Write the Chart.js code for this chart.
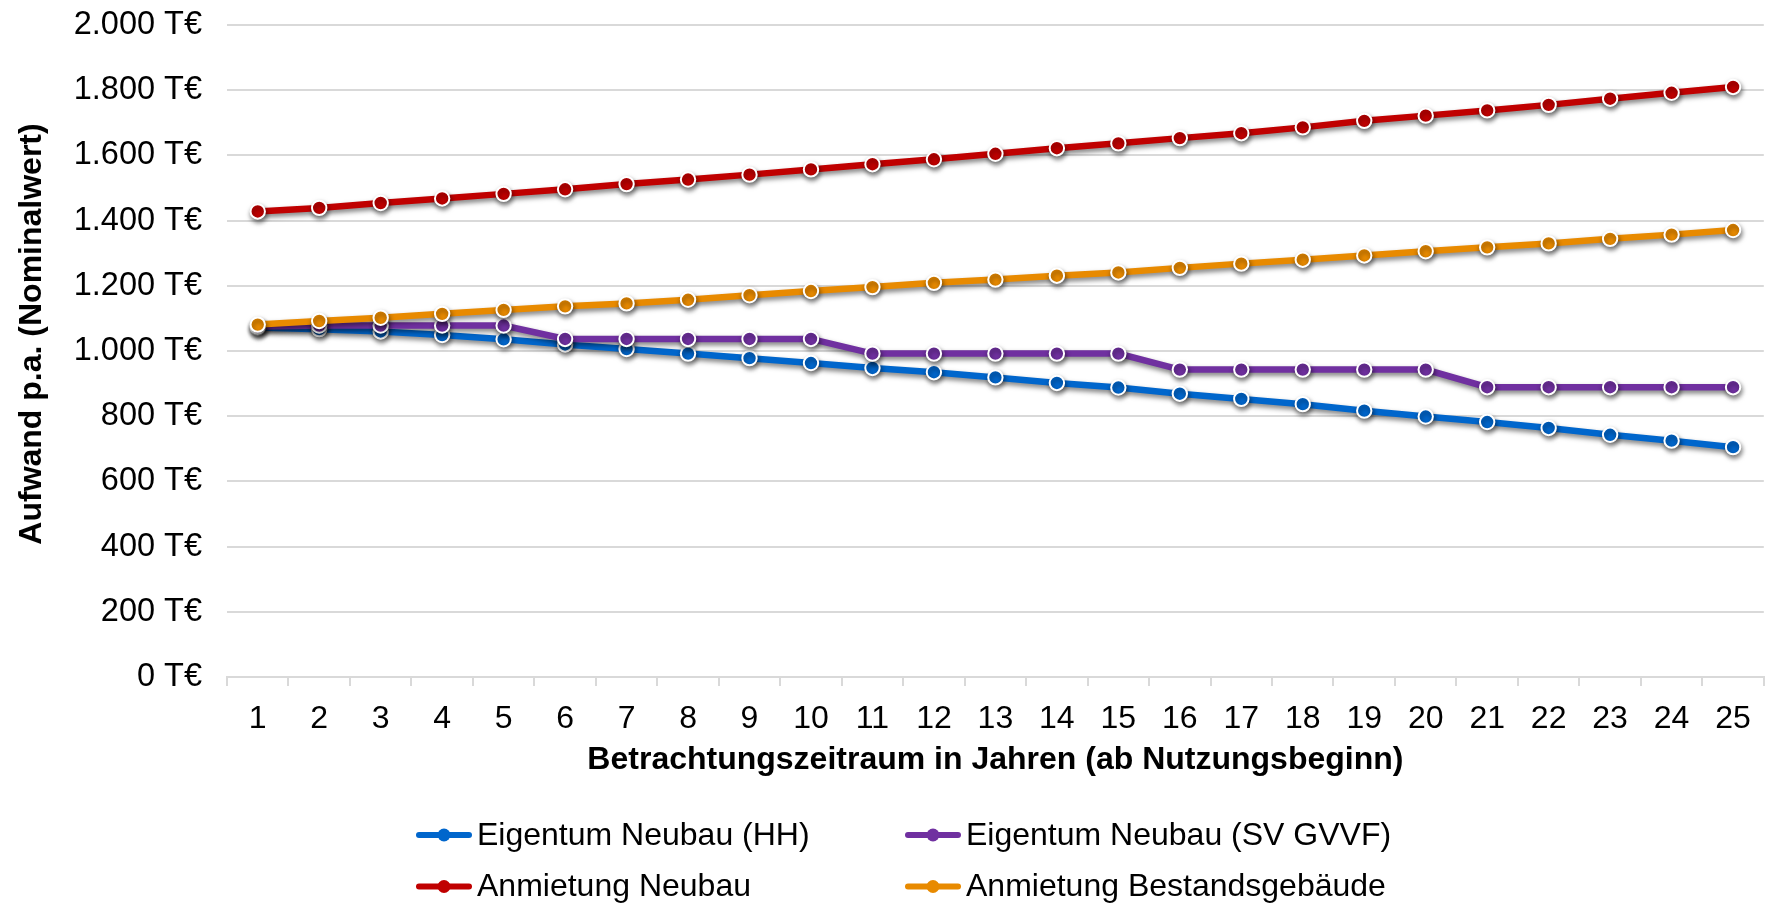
<!DOCTYPE html>
<html>
<head>
<meta charset="utf-8">
<script src="https://cdn.jsdelivr.net/npm/chart.js@4"></script>
<style>
  html, body { margin: 0; padding: 0; background: #fff; overflow: hidden; }
  #wrap { width: 1773px; height: 904px; }
</style>
</head>
<body>
<div id="wrap"><canvas id="c" width="1773" height="904"></canvas></div>
<script>
const categories = ['1','2','3','4','5','6','7','8','9','10','11','12','13','14','15','16','17','18','19','20','21','22','23','24','25'];
const seriesNames = ['Eigentum Neubau (HH)', 'Eigentum Neubau (SV GVVF)', 'Anmietung Neubau', 'Anmietung Bestandsgebäude'];
const eigentumHH = [1072, 1067, 1060, 1049, 1036, 1020, 1006, 992, 978, 963, 948, 935, 919, 902, 888, 869, 853, 837, 817, 799, 782, 764, 743, 725, 705];
const eigentumSV = [1075, 1078, 1078, 1078, 1078, 1037, 1037, 1037, 1037, 1037, 992, 992, 992, 992, 992, 943, 943, 943, 943, 943, 889, 889, 889, 889, 889];
const anmietungNeubau = [1428, 1439, 1454, 1468, 1482, 1496, 1512, 1526, 1541, 1557, 1573, 1588, 1605, 1622, 1637, 1653, 1668, 1686, 1706, 1722, 1738, 1755, 1774, 1792, 1810];
const anmietungBestand = [1081, 1092, 1102, 1114, 1126, 1137, 1146, 1157, 1171, 1184, 1196, 1209, 1219, 1231, 1241, 1255, 1268, 1280, 1293, 1306, 1318, 1330, 1344, 1357, 1371];
const yTicks = [0, 200, 400, 600, 800, 1000, 1200, 1400, 1600, 1800, 2000];
const xTitle = 'Betrachtungszeitraum in Jahren (ab Nutzungsbeginn)';
const yTitle = 'Aufwand p.a. (Nominalwert)';
const colors = ['#0066CC', '#7030A0', '#C00000', '#E88A00'];

const FONT = "'Liberation Sans', Arial, sans-serif";

function fmt(v) {
  const s = String(Math.round(v));
  return s.replace(/\B(?=(\d{3})+(?!\d))/g, '.') + ' T€';
}

const shadowPlugin = {
  id: 'shadow',
  beforeDatasetsDraw(chart) {
    const ctx = chart.ctx;
    ctx.save();
    ctx.shadowColor = 'rgba(0,0,0,0.5)';
    ctx.shadowBlur = 5;
    ctx.shadowOffsetX = 1;
    ctx.shadowOffsetY = 3;
  },
  afterDatasetsDraw(chart) {
    chart.ctx.restore();
  }
};

const extrasPlugin = {
  id: 'extras',
  afterDraw(chart) {
    const ctx = chart.ctx;
    // y axis title
    ctx.save();
    ctx.translate(32, 334);
    ctx.rotate(-Math.PI / 2);
    ctx.font = 'bold 32px ' + FONT;
    ctx.fillStyle = '#000';
    ctx.textAlign = 'center';
    ctx.textBaseline = 'middle';
    ctx.fillText(yTitle, 0, 0);
    ctx.restore();
    // legend (two columns)
    const colX = [416, 905];
    const rowY = [835, 886.5];
    chart.data.datasets.forEach((ds, i) => {
      const x0 = colX[i % 2];
      const y = rowY[Math.floor(i / 2)];
      ctx.save();
      ctx.strokeStyle = ds.borderColor;
      ctx.lineWidth = 6;
      ctx.lineCap = 'round';
      ctx.beginPath();
      ctx.moveTo(x0 + 3, y);
      ctx.lineTo(x0 + 53, y);
      ctx.stroke();
      ctx.fillStyle = ds.borderColor;
      ctx.beginPath();
      ctx.arc(x0 + 28, y, 6.5, 0, Math.PI * 2);
      ctx.fill();
      ctx.font = '32px ' + FONT;
      ctx.fillStyle = '#000';
      ctx.textAlign = 'left';
      ctx.textBaseline = 'middle';
      ctx.fillText(ds.label, x0 + 61, y + 1);
      ctx.restore();
    });
  }
};

function mkDs(label, data, color, order) {
  return {
    label, data,
    borderColor: color,
    backgroundColor: color,
    borderWidth: 6.5,
    pointRadius: 7.2,
    pointBorderWidth: 2,
    pointBorderColor: '#ffffff',
    pointBackgroundColor: color,
    tension: 0,
    order
  };
}

new Chart(document.getElementById('c'), {
  type: 'line',
  data: {
    labels: categories,
    datasets: [
      mkDs(seriesNames[0], eigentumHH, colors[0], 3),
      mkDs(seriesNames[1], eigentumSV, colors[1], 2),
      mkDs(seriesNames[2], anmietungNeubau, colors[2], 1),
      mkDs(seriesNames[3], anmietungBestand, colors[3], 0)
    ]
  },
  options: {
    responsive: false,
    animation: false,
    devicePixelRatio: 1,
    layout: { padding: { top: 25, right: 0, bottom: 0, left: 0 } },
    plugins: {
      legend: { display: false },
      tooltip: { enabled: false }
    },
    scales: {
      x: {
        type: 'category',
        offset: true,
        grid: {
          offset: true,
          drawOnChartArea: false,
          drawTicks: true,
          tickLength: 9,
          color: '#d9d9d9',
          lineWidth: 2
        },
        border: { display: true, color: '#d9d9d9', width: 2 },
        ticks: {
          color: '#000',
          font: { family: FONT, size: 32 },
          padding: 13.5,
          maxRotation: 0,
          autoSkip: false
        },
        title: {
          display: true,
          text: xTitle,
          color: '#000',
          font: { family: FONT, size: 32, weight: 'bold' },
          padding: { top: 0, bottom: 125 }
        },
        afterFit(scale) {
          scale.height = 227;
          scale.paddingLeft = 0;
          scale.paddingRight = 0;
        }
      },
      y: {
        min: 0,
        max: 2000,
        afterBuildTicks(scale) { scale.ticks = yTicks.map(v => ({ value: v })); },
        grid: {
          color: '#d9d9d9',
          lineWidth: 2,
          drawTicks: false
        },
        border: { display: false },
        ticks: {
          color: '#000',
          font: { family: FONT, size: 32.5 },
          padding: 25,
          callback: (v) => fmt(v)
        },
        afterFit(scale) {
          scale.width = 227;
          scale.paddingTop = 0;
          scale.paddingBottom = 0;
        }
      }
    }
  },
  plugins: [shadowPlugin, extrasPlugin]
});
</script>
</body>
</html>
